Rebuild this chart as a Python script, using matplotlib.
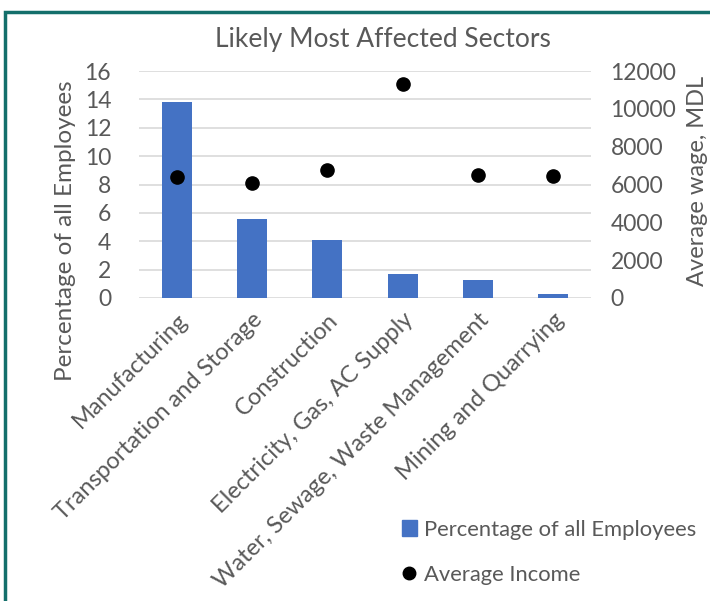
import matplotlib.pyplot as plt
from matplotlib.patches import Rectangle
from matplotlib.lines import Line2D
import numpy as np

sectors = ["Manufacturing", "Transportation and Storage", "Construction",
           "Electricity, Gas, AC Supply", "Water, Sewage, Waste Management",
           "Mining and Quarrying"]
pct_employees = [13.8, 5.6, 4.1, 1.7, 1.25, 0.25]
avg_income = [6380, 6100, 6770, 11300, 6490, 6450]

plt.rcParams['font.family'] = ['Lato', 'DejaVu Sans']
grey = '#595959'
blue = '#4472C4'

fig = plt.figure(figsize=(7.1, 6.01), dpi=100)
ax = fig.add_axes([139 / 710, 1 - 298 / 601, 452 / 710, 227 / 601])
x = np.arange(len(sectors))

ax.bar(x, pct_employees, width=0.4, color=blue, zorder=3)
ax.set_ylim(0, 16)
ax.set_xlim(-0.5, len(sectors) - 0.5)
ax.set_yticks(range(0, 17, 2))
ax.grid(axis='y', color='#D9D9D9', linewidth=1.2, zorder=0)
for s in ax.spines.values():
    s.set_visible(False)
ax.tick_params(axis='y', length=0, labelsize=16.5, colors=grey, pad=20)
ax.tick_params(axis='x', length=0, labelsize=17, colors=grey, pad=8)
ax.set_xticks(x)
ax.set_xticklabels(sectors, rotation=45, ha='right', rotation_mode='anchor')

ax2 = ax.twinx()
ax2.plot(x, avg_income, 'o', color='black', markersize=9.5, zorder=4)
ax2.set_ylim(0, 12000)
ax2.set_yticks(range(0, 12001, 2000))
for s in ax2.spines.values():
    s.set_visible(False)
ax2.tick_params(axis='y', length=0, labelsize=16.5, colors=grey, pad=14)

# axis titles placed like the Excel original
fig.text(66 / 710, 1 - 231 / 601, 'Percentage of all Employees', fontsize=17.5,
         color=grey, rotation=90, ha='center', va='center')
fig.text(697 / 710, 1 - 181 / 601, 'Average wage, MDL', fontsize=17,
         color=grey, rotation=90, ha='center', va='center')

fig.suptitle('Likely Most Affected Sectors', fontsize=19, color=grey,
             x=383 / 710, y=1 - 27 / 601, va='top')

handles = [Rectangle((0, 0), 1, 1, color=blue),
           Line2D([], [], marker='o', color='black', linestyle='none', markersize=9)]
fig.legend(handles, ['Percentage of all Employees', 'Average Income'],
           loc='upper left', bbox_to_anchor=(382 / 710, 1 - 500 / 601),
           frameon=False, fontsize=15.8, labelcolor=grey, handlelength=0.7,
           handleheight=0.7, handletextpad=0.3, labelspacing=1.15)

fig.patches.append(Rectangle((5 / 710, -0.1), 1.2, 1 - 12 / 601 + 0.1,
                             transform=fig.transFigure, fill=False,
                             edgecolor='#136F6B', linewidth=2.5))

plt.savefig('out.png', dpi=100)
